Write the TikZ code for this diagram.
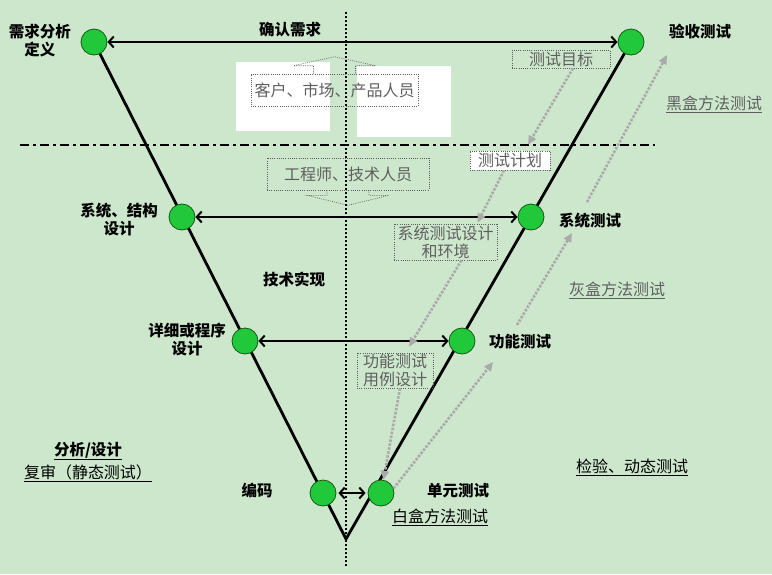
\documentclass[tikz,border=0pt]{standalone}
\usepackage{fontspec}
\newfontfamily\cjk{Noto Sans CJK SC}
\usetikzlibrary{arrows.meta,backgrounds}
\definecolor{bggreen}{RGB}{205,231,205}
\definecolor{ballgreen}{RGB}{32,200,58}
\definecolor{balledge}{RGB}{20,90,20}
\definecolor{hintgray}{RGB}{95,95,95}
\definecolor{arrowgray}{RGB}{170,170,170}
\tikzset{
  ball/.style={circle, fill=ballgreen, draw=balledge, line width=0.8pt, minimum size=26pt, inner sep=0pt},
  stage/.style={font={\cjk\bfseries\fontsize{15.5}{18}\selectfont}, align=center, inner sep=0pt},
  hintbox/.style={font={\cjk\fontsize{16}{18}\selectfont}, text=hintgray, draw=hintgray, line width=0.6pt, dash pattern=on 1pt off 1.2pt, align=center, inner sep=0pt},
  remark/.style={font={\cjk\fontsize{16}{18}\selectfont}, inner sep=0pt},
  pair/.style={line width=2pt, {Straight Barb[length=5pt,width=11pt]}-{Straight Barb[length=5pt,width=11pt]}},
  flow/.style={draw=arrowgray, line width=2.6pt, dash pattern=on 2.5pt off 1.5pt, -{Triangle[length=9pt,width=8pt,fill=arrowgray]}},
  vline/.style={line width=2.8pt}
}
\begin{document}
\begin{tikzpicture}[x=1pt,y=-1pt]
    \useasboundingbox (0,0) rectangle (772,574);
    \fill[white] (236,62) rectangle (330,131);
    \fill[white] (357,66) rectangle (451,137);
    \draw[line width=2pt, dash pattern=on 9pt off 4pt on 3pt off 4pt] (20,145) -- (655,145);

    \node[hintbox, minimum width=167pt, minimum height=32pt] (kehu) at (334.5,90) {客户、市场、产品人员};
    \node[hintbox, minimum width=162pt, minimum height=32pt] (gongcheng) at (348,174) {工程师、技术人员};
    \node[hintbox, minimum width=98pt, minimum height=18pt] (mubiao) at (561,59) {测试目标};
    \node[hintbox, fill=white, minimum width=80pt, minimum height=19pt] (jihua) at (510,160.5) {测试计划};
    \node[hintbox, minimum width=103pt, minimum height=36pt] (sheji) at (445.5,242) {系统测试设计\\和环境};
    \node[hintbox, minimum width=76pt, minimum height=35pt] (yongli) at (395,370.5) {功能测试\\用例设计};
    \draw[hintgray, line width=0.6pt, dash pattern=on 1pt off 1.2pt] ([xshift=-21pt]kehu.north) -- ++(0,-8) -- ++(-20,0)
        -- ([yshift=17pt]kehu.north) -- ([xshift=41pt,yshift=8pt]kehu.north) -- ++(-20,0) -- ++(0,8);
    \draw[hintgray, line width=0.6pt, dash pattern=on 1pt off 1.2pt] ([xshift=-21pt]gongcheng.south) -- ++(0,5) -- ++(-20,0)
        -- ([yshift=-15pt]gongcheng.south) -- ([xshift=41pt,yshift=-5pt]gongcheng.south) -- ++(-20,0) -- ++(0,-5);
    \draw[line width=2pt, dash pattern=on 2pt off 2pt] (346,12) -- (346,566);

    \node[ball] (Q) at (94,42) {};
    \node[ball] (A) at (631,42) {};
    \node[ball] (S1) at (182,217) {};
    \node[ball] (S2) at (531,217) {};
    \node[ball] (D1) at (245,341) {};
    \node[ball] (D2) at (462,341) {};
    \node[ball] (C1) at (323,493) {};
    \node[ball] (C2) at (381,493) {};
    \coordinate (bottom) at (346,539);

    \draw[pair] (Q) -- (A);
    \draw[pair] (S1) -- (S2);
    \draw[pair] (D1) -- (D2);
    \draw[pair, shorten <=2pt, shorten >=2pt] (C1) -- (C2);

    \draw[flow] ([xshift=12pt]mubiao.south) -- ([xshift=18pt,yshift=6pt]jihua.north);
    \draw[flow] ([xshift=-6pt]jihua.south) -- ([xshift=32pt,yshift=1pt]sheji.north);
    \draw[flow] ([xshift=16pt]sheji.south) -- ([xshift=14pt,yshift=6pt]yongli.north);
    \draw[flow] ([xshift=5pt]yongli.south) -- (C2);
    \coordinate (hui1) at (493,362);
    \coordinate (hui2s) at (517,325);
    \coordinate (hui2) at (572,233);
    \coordinate (hei1s) at (587,202);
    \coordinate (hei1) at (667,55);
    \draw[flow] (C2.20) -- (hui1);
    \draw[flow] (hui2s) -- (hui2);
    \draw[flow] (hei1s) -- (hei1);

    \node[stage] (lxuqiu) at (40,41) {需求分析\\定义};
    \node[stage] (lqueren) at (290,30) {确认需求};
    \node[stage] (lyanshou) at (700,32) {验收测试};
    \node[stage] (ljiegou) at (119,220) {系统、结构\\设计};
    \node[stage] (lxitong) at (590,221) {系统测试};
    \node[stage] (lshixian) at (294,279) {技术实现};
    \node[stage] (lchengxu) at (187,340) {详细或程序\\设计};
    \node[stage] (lgongneng) at (520,342) {功能测试};
    \node[stage] (lbianma) at (257,491) {编码};
    \node[stage] (ldanyuan) at (458,491) {单元测试};
    \node[stage] (lfenxi) at (88,451) {\underline{分析/设计}};
    \node[remark] (lfushen) at (88,473) {\underline{复审（静态测试）}};
    \node[remark] (lbai) at (440,517) {\underline{白盒方法测试}};
    \node[remark, text=hintgray] (lhei) at (714,104) {\underline{黑盒方法测试}};
    \node[remark, text=hintgray] (lhui) at (617,290) {\underline{灰盒方法测试}};
    \node[remark] (ljianyan) at (632,467) {\underline{检验、动态测试}};

    \begin{pgfonlayer}{background}
    \fill[bggreen] (0,0) rectangle (772,574);
    \draw[vline] (Q.center) -- (bottom) -- (A.center);
    \end{pgfonlayer}
\end{tikzpicture}
\end{document}
